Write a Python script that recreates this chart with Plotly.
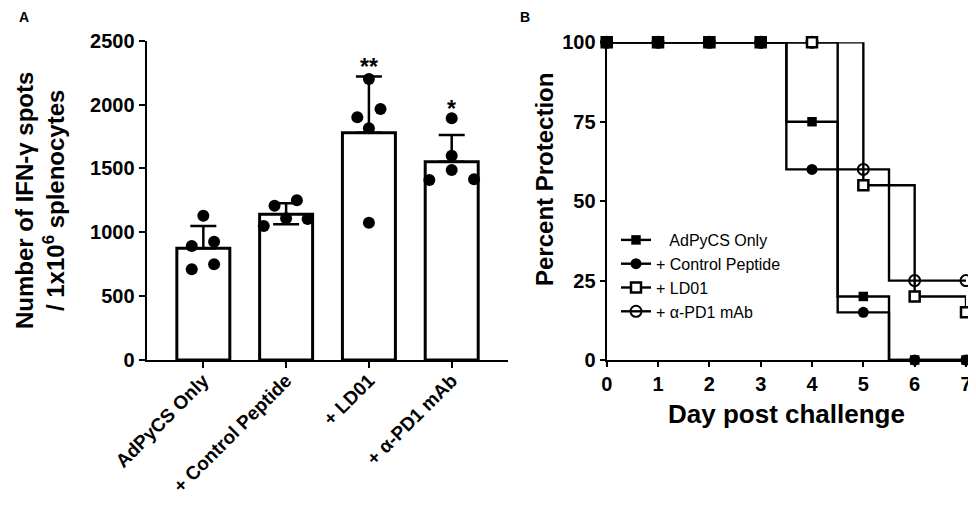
import plotly.graph_objects as go

# ---------------- Panel A data ----------------
groups = ["AdPyCS Only", "+ Control Peptide", "+ LD01", "+ α-PD1 mAb"]
bar_means = [875, 1141, 1780, 1553]
bar_sd_upper = [174, 86, 439, 209]
bar_sd_lower = [0, 78, 0, 0]
spots_adpycs = [1130, 893, 926, 710, 749]
spots_control = [1208, 1250, 1049, 1109, 1104]
spots_ld01 = [2200, 1900, 1965, 1814, 1075]
spots_pd1 = [1892, 1600, 1488, 1409, 1415]
spot_sets = [spots_adpycs, spots_control, spots_ld01, spots_pd1]
jitter_adpycs = [0, -0.14, 0.13, -0.14, 0.13]
jitter_control = [-0.14, 0.13, -0.27, 0, 0.26]
jitter_ld01 = [0, -0.14, 0.14, 0, 0]
jitter_pd1 = [0, 0, 0, -0.27, 0.27]
jitter_sets = [jitter_adpycs, jitter_control, jitter_ld01, jitter_pd1]
significance = ["", "", "**", "*"]

# ---------------- Panel B data ----------------
days = [0, 1, 2, 3, 4, 5, 6, 7]
prot_adpycs = [100, 100, 100, 100, 75, 20, 0, 0]
prot_control = [100, 100, 100, 100, 60, 15, 0, 0]
prot_ld01 = [100, 100, 100, 100, 100, 55, 20, 15]
prot_pd1 = [100, 100, 100, 100, 100, 60, 25, 25]
series_names = ["\u00a0\u00a0\u00a0AdPyCS Only", "+ Control Peptide", "+ LD01", "+ α-PD1 mAb"]

# page body has an 8px margin: figure is sized/shifted to compensate
OFF = 8
W, H = 976 - OFF, 511 - OFF
FONT = "Arial, 'Liberation Sans', sans-serif"


def px_x(p):
    return (p - OFF) / W


def px_y(p):
    return 1 - (p - OFF) / H


fig = go.Figure()

cat_x = list(range(len(groups)))

# Bars with SD error bars
fig.add_trace(go.Bar(
    x=cat_x, y=bar_means, width=0.64,
    marker=dict(color="white", line=dict(color="black", width=3)),
    error_y=dict(type="data", array=bar_sd_upper, arrayminus=bar_sd_lower,
                 symmetric=False, color="black", thickness=2.5, width=13),
    showlegend=False, xaxis="x", yaxis="y", hoverinfo="skip",
))

# Individual points
for i, (vals, jit) in enumerate(zip(spot_sets, jitter_sets)):
    fig.add_trace(go.Scatter(
        x=[i + j for j in jit], y=vals, mode="markers",
        marker=dict(color="black", size=12, symbol="circle"),
        showlegend=False, xaxis="x", yaxis="y", cliponaxis=False,
    ))

# Significance stars
for i, s in enumerate(significance):
    if s:
        top = max(bar_means[i] + bar_sd_upper[i], max(spot_sets[i]))
        fig.add_annotation(x=i, y=top + 75, xref="x", yref="y", text=s,
                           showarrow=False, yanchor="middle",
                           font=dict(size=23, family=FONT, color="black", weight="bold"))

# Step curves (drawn bottom to top)
fig.add_trace(go.Scatter(
    x=days, y=prot_pd1, mode="lines+markers", name=series_names[3],
    line=dict(color="black", width=2.4, shape="hvh"),
    marker=dict(symbol="circle-open", size=11, color="black", line=dict(width=2)),
    xaxis="x2", yaxis="y2", cliponaxis=False, legendrank=4,
))
fig.add_trace(go.Scatter(
    x=days, y=prot_ld01, mode="lines+markers", name=series_names[2],
    line=dict(color="black", width=2.4, shape="hv"),
    marker=dict(symbol="square", size=10, color="white", line=dict(width=2.5, color="black")),
    xaxis="x2", yaxis="y2", cliponaxis=False, legendrank=3,
))
fig.add_trace(go.Scatter(
    x=days, y=prot_control, mode="lines+markers", name=series_names[1],
    line=dict(color="black", width=2.4, shape="hvh"),
    marker=dict(symbol="circle", size=11, color="black"),
    xaxis="x2", yaxis="y2", cliponaxis=False, legendrank=2,
))
fig.add_trace(go.Scatter(
    x=days, y=prot_adpycs, mode="lines+markers", name=series_names[0],
    line=dict(color="black", width=2.4, shape="hvh"),
    marker=dict(symbol="square", size=9.5, color="black"),
    xaxis="x2", yaxis="y2", cliponaxis=False, legendrank=1,
))

tickfont = dict(family=FONT, size=20, color="black", weight="bold")

common_axis = dict(
    showline=True, linecolor="black", linewidth=2.2,
    ticks="outside", tickwidth=2, tickcolor="black",
    showgrid=False, zeroline=False, automargin=False,
)

fig.update_layout(
    width=W, height=H,
    margin=dict(l=0, r=0, t=0, b=0, pad=0, autoexpand=False),
    paper_bgcolor="white", plot_bgcolor="white",
    font=dict(family=FONT, color="black"),
    xaxis=dict(
        domain=[px_x(146.7), px_x(508)], range=[-0.684, 3.68],
        tickvals=cat_x, ticktext=groups, tickangle=-45,
        tickfont=dict(family=FONT, size=19, color="black", weight="bold"),
        ticklen=6, ticklabelstandoff=-6, anchor="y", **common_axis,
    ),
    yaxis=dict(
        domain=[px_y(360), px_y(40.7)], range=[0, 2500],
        tickvals=[0, 500, 1000, 1500, 2000, 2500],
        tickfont=tickfont, ticklen=6, anchor="x", **common_axis,
    ),
    xaxis2=dict(
        domain=[px_x(606.7), px_x(966)], range=[0, 7],
        tickvals=days, tickfont=tickfont, ticklen=5, anchor="y2", **common_axis,
    ),
    yaxis2=dict(
        domain=[px_y(360), px_y(42.3)], range=[0, 100],
        tickvals=[0, 25, 50, 75, 100],
        tickfont=tickfont, ticklen=5, anchor="x2", **common_axis,
    ),
    legend=dict(
        x=px_x(616), y=px_y(276), xanchor="left", yanchor="middle",
        bgcolor="rgba(0,0,0,0)", borderwidth=0,
        font=dict(family=FONT, size=16, color="black"),
        tracegroupgap=0, itemwidth=30,
    ),
    showlegend=True,
)

# Axis titles and panel labels as annotations
fig.add_annotation(
    x=px_x(40), y=px_y(201), xref="paper", yref="paper",
    text="Number of IFN-γ spots<br>/ 1x10<sup>6</sup> splenocytes",
    textangle=-90, showarrow=False, xanchor="center", yanchor="middle",
    borderpad=0,
    font=dict(family=FONT, size=24, color="black", weight="bold"),
)
fig.add_annotation(
    x=px_x(545), y=px_y(180), xref="paper", yref="paper",
    text="Percent Protection", textangle=-90, showarrow=False,
    xanchor="center", yanchor="middle",
    font=dict(family=FONT, size=24, color="black", weight="bold"),
)
fig.add_annotation(
    x=px_x(786.7), y=px_y(414), xref="paper", yref="paper",
    text="Day post challenge", showarrow=False,
    xanchor="center", yanchor="middle",
    font=dict(family=FONT, size=26, color="black", weight="bold"),
)
fig.add_annotation(
    x=px_x(24), y=px_y(17), xref="paper", yref="paper", text="A",
    showarrow=False, xanchor="center", yanchor="middle",
    font=dict(family=FONT, size=14, color="black", weight="bold"),
)
fig.add_annotation(
    x=px_x(525), y=px_y(17), xref="paper", yref="paper", text="B",
    showarrow=False, xanchor="center", yanchor="middle",
    font=dict(family=FONT, size=14, color="black", weight="bold"),
)

fig.write_html("out.html")
